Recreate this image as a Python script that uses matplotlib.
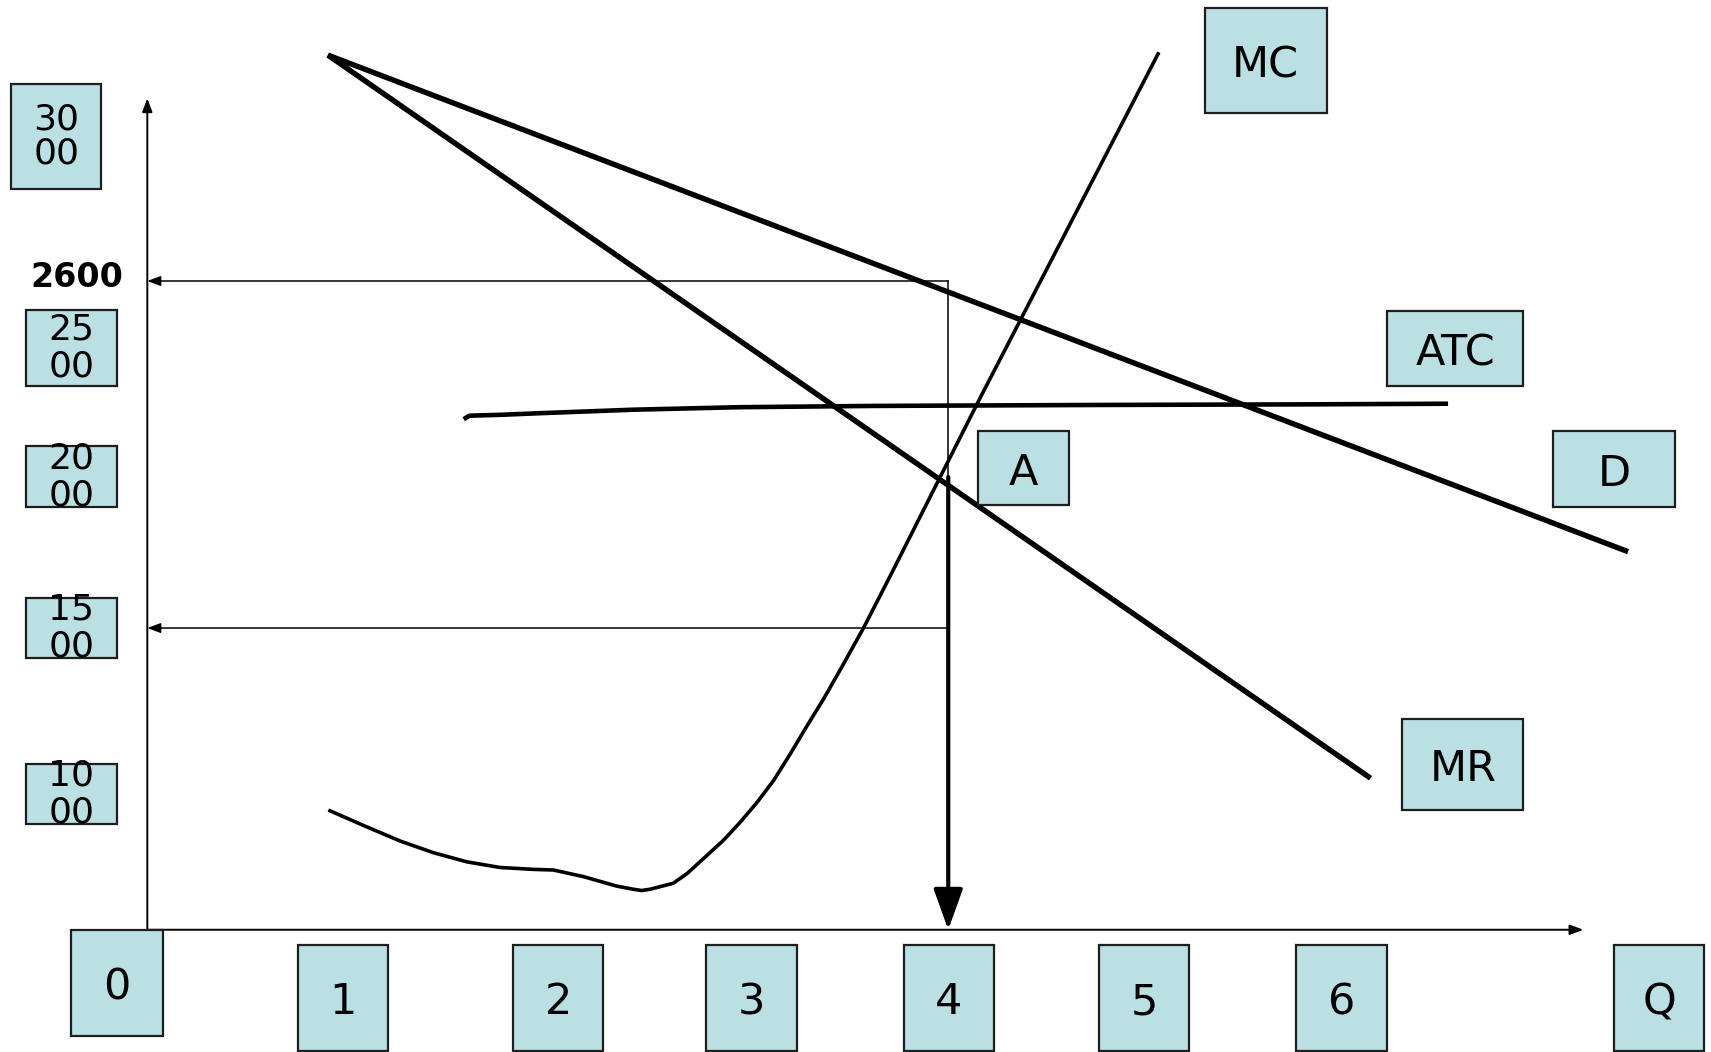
import matplotlib
matplotlib.use("Agg")
import matplotlib.pyplot as plt
from matplotlib.patches import Rectangle, FancyArrowPatch
from matplotlib.transforms import Affine2D

# ---------------- data (quantity Q, price P) ----------------
d_q = [0.902, 7.395]
d_p = [3316, 1742]

mr_q = [0.902, 6.109]
mr_p = [3316, 1024]

mc_q = [0.904, 1.095, 1.262, 1.428, 1.595, 1.761, 1.928, 2.028, 2.178, 2.344,
        2.427, 2.469, 2.511, 2.627, 2.698, 2.760, 2.877, 2.959, 3.046, 3.128,
        3.210, 3.292, 3.379, 3.460, 3.575, 3.711, 4.158, 5.052]
mc_p = [923, 870, 825, 788, 759, 741, 735, 733, 712, 682,
        672, 668, 672, 691, 723, 759, 827, 883, 948, 1017,
        1100, 1187, 1277, 1367, 1498, 1666, 2228, 3325]

atc_q = [1.580, 1.608, 1.771, 1.962, 2.425, 2.959, 3.624, 4.714, 5.804, 6.496]
atc_p = [2162, 2173, 2176, 2181, 2192, 2200, 2204, 2207, 2209, 2211]

q_star = 4.0
p_price = 2600
p_mc = 1500
p_point_a = 1979

axis_p = 543.6
axis_q_end = 7.172
axis_p_end = 3179

y_labels = ["30\n00", "25\n00", "20\n00", "15\n00", "10\n00"]
x_labels = ["0", "1", "2", "3", "4", "5", "6", "Q"]
curve_labels = ["MC", "ATC", "A", "D", "MR"]
price_label = "2600"

# ---------------- layout (reference pixel boxes: x0, x1, y0, y1) ----------------
y_label_boxes = [(10, 93, 77, 173), (24, 107, 284, 354), (24, 107, 409, 465),
                 (24, 107, 548, 603), (24, 107, 700, 755)]
x_label_boxes = [(65, 149, 852, 949), (273, 356, 866, 963), (470, 553, 866, 963),
                 (647, 730, 866, 963), (828, 911, 866, 963), (1007, 1090, 866, 963),
                 (1188, 1271, 866, 963), (1479, 1562, 866, 963)]
curve_label_boxes = [(1104, 1216, 7, 104), (1271, 1396, 285, 354), (896, 980, 395, 463),
                     (1423, 1535, 395, 465), (1285, 1396, 659, 742)]
price_label_pos = (70, 251)

box_face = "#bae0e3"
box_edge = "#1e1e1e"

fig = plt.figure(figsize=(17.11, 10.52), dpi=100)
ax = fig.add_axes([0, 0, 1, 1])
ax.set_xlim(-0.7357, 7.8093)
ax.set_ylim(156.1, 3490.7)
ax.axis("off")

ref = Affine2D().scale(1 / 1568, -1 / 964).translate(0, 1) + ax.transAxes

# curves
ax.plot(d_q, d_p, color="black", lw=3.9, solid_capstyle="butt", zorder=3)
ax.plot(mr_q, mr_p, color="black", lw=3.9, solid_capstyle="butt", zorder=3)
ax.plot(mc_q, mc_p, color="black", lw=2.6, solid_capstyle="butt",
        solid_joinstyle="round", zorder=3)
ax.plot(atc_q, atc_p, color="black", lw=3.3, solid_capstyle="butt",
        solid_joinstyle="round", zorder=3)

def arrow(p0, p1, lw, hl, hw, zorder=2):
    a = FancyArrowPatch(p0, p1, arrowstyle=f"-|>,head_length={hl},head_width={hw}",
                        mutation_scale=10, lw=lw, color="black",
                        shrinkA=0, shrinkB=0, zorder=zorder)
    ax.add_patch(a)

# axes
arrow((0, axis_p), (0, axis_p_end), 1.4, 0.8, 0.3)
arrow((0, axis_p), (axis_q_end, axis_p), 1.4, 0.8, 0.3)

# guide lines
arrow((q_star, p_price), (0, p_price), 1.1, 0.8, 0.3)
ax.plot([q_star, q_star], [p_price, p_mc], color="black", lw=1.1, zorder=2)
arrow((q_star, p_mc), (0, p_mc), 1.1, 0.8, 0.3)

# thick arrow from A down to the quantity axis
arrow((q_star, p_point_a), (q_star, axis_p), 3.0, 2.5, 0.9, zorder=4)

def box(lbl, b, size, ls=1.0, va="center_baseline"):
    x0, x1, y0, y1 = b
    r = Rectangle((x0, y0), x1 - x0, y1 - y0, transform=ref, facecolor=box_face,
                  edgecolor=box_edge, lw=1.6, zorder=5)
    ax.add_patch(r)
    ax.text((x0 + x1) / 2, (y0 + y1) / 2, lbl, transform=ref, ha="center", va=va,
            fontsize=size, family="DejaVu Sans", linespacing=ls, zorder=6,
            color="black")

for i, (lbl, b) in enumerate(zip(y_labels, y_label_boxes)):
    box(lbl, b, 26, ls=1.0 if i == 0 else 1.1, va="center")
for lbl, b in zip(x_labels, x_label_boxes):
    box(lbl, b, 31)
for lbl, b in zip(curve_labels, curve_label_boxes):
    box(lbl, b, 31)

ax.text(price_label_pos[0], price_label_pos[1], price_label, transform=ref,
        ha="center", va="center_baseline", fontsize=24, fontweight="bold",
        family="DejaVu Sans", zorder=6)

fig.savefig("out.png", dpi=100, facecolor="white")
